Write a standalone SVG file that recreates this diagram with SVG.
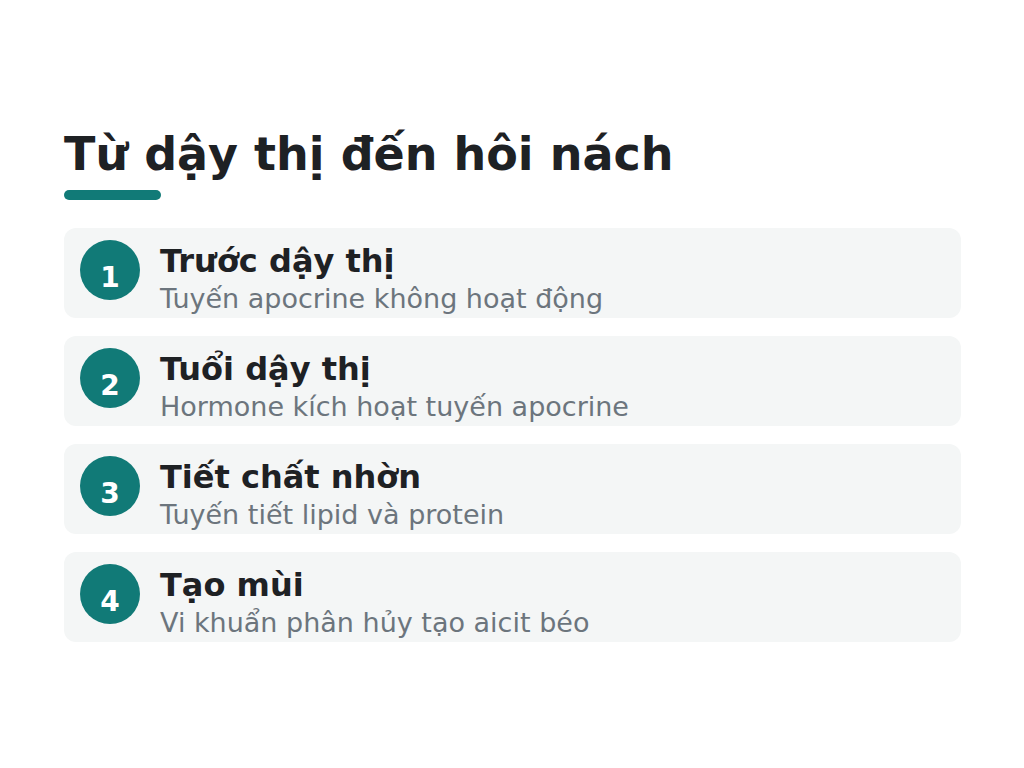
<svg xmlns="http://www.w3.org/2000/svg" width="1024" height="768" viewBox="0 0 1024 768">
<style>
.title{font-family:"DejaVu Sans",sans-serif;font-weight:bold;font-size:46px;fill:#1e2124}
.card{fill:#f4f6f6}
.badge{fill:#117a77}
.num{font-family:"DejaVu Sans",sans-serif;font-weight:bold;font-size:28px;fill:#ffffff;text-anchor:middle}
.head{font-family:"DejaVu Sans",sans-serif;font-weight:bold;font-size:32px;fill:#1e2124}
.sub{font-family:"DejaVu Sans",sans-serif;font-size:27px;fill:#6c757d}
</style>
<rect width="1024" height="768" fill="#ffffff"/>
<text class="title" x="64" y="170">Từ dậy thị đến hôi nách</text>
<rect x="64" y="190" width="97" height="10" rx="5" fill="#117a77"/>
<g id="step1">
<rect class="card" x="64" y="228" width="897" height="90" rx="12"/>
<circle class="badge" cx="110" cy="270" r="30"/>
<text class="num" x="110" y="287">1</text>
<text class="head" x="160" y="272">Trước dậy thị</text>
<text class="sub" x="160" y="308">Tuyến apocrine không hoạt động</text>
</g>
<g id="step2">
<rect class="card" x="64" y="336" width="897" height="90" rx="12"/>
<circle class="badge" cx="110" cy="378" r="30"/>
<text class="num" x="110" y="395">2</text>
<text class="head" x="160" y="380">Tuổi dậy thị</text>
<text class="sub" x="160" y="416">Hormone kích hoạt tuyến apocrine</text>
</g>
<g id="step3">
<rect class="card" x="64" y="444" width="897" height="90" rx="12"/>
<circle class="badge" cx="110" cy="486" r="30"/>
<text class="num" x="110" y="503">3</text>
<text class="head" x="160" y="488">Tiết chất nhờn</text>
<text class="sub" x="160" y="524">Tuyến tiết lipid và protein</text>
</g>
<g id="step4">
<rect class="card" x="64" y="552" width="897" height="90" rx="12"/>
<circle class="badge" cx="110" cy="594" r="30"/>
<text class="num" x="110" y="611">4</text>
<text class="head" x="160" y="596">Tạo mùi</text>
<text class="sub" x="160" y="632">Vi khuẩn phân hủy tạo aicit béo</text>
</g>
<g id="connectors"></g>
</svg>
